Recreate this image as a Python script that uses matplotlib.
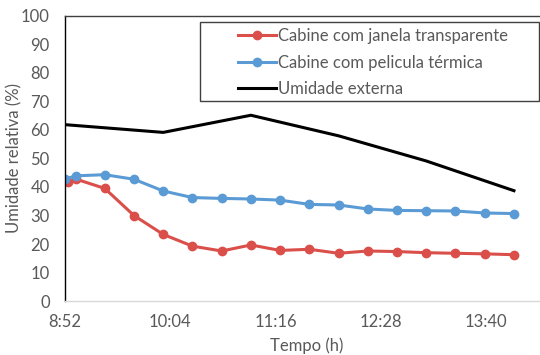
import matplotlib.pyplot as plt
from matplotlib.patches import Rectangle
from matplotlib.ticker import FuncFormatter

plt.rcParams['font.family'] = ['Lato', 'DejaVu Sans']

# Measurement times (h:mm) and relative humidity (%)
t_janela = ['8:55', '9:00', '9:20', '9:40', '10:00', '10:20', '10:40', '11:00', '11:20',
            '11:40', '12:00', '12:20', '12:40', '13:00', '13:20', '13:40', '14:00']
ur_janela = [41.7, 42.8, 39.5, 30.0, 23.4, 19.3, 17.6, 19.7, 17.8,
             18.2, 16.8, 17.6, 17.4, 17.0, 16.8, 16.6, 16.3]

t_pelicula = ['8:53', '9:00', '9:20', '9:40', '10:00', '10:20', '10:40', '11:00', '11:20',
              '11:40', '12:00', '12:20', '12:40', '13:00', '13:20', '13:40', '14:00']
ur_pelicula = [42.8, 43.9, 44.3, 42.7, 38.6, 36.3, 36.0, 35.8, 35.4,
               33.9, 33.7, 32.3, 31.8, 31.7, 31.6, 30.9, 30.7]

t_externa = ['8:53', '10:00', '11:00', '12:00', '13:00', '14:00']
ur_externa = [61.8, 59.1, 65.1, 57.9, 49.1, 38.7]


def to_day(hhmm):
    h, m = hhmm.split(':')
    return (int(h) * 60 + int(m)) / 1440.0


def fmt_time(x, pos):
    # time of day as a fraction of a day, truncated to the minute
    total = int(x * 1440 + 1e-6)
    return f'{total // 60}:{total % 60:02d}'


grey = '#595959'
fs = 12

fig = plt.figure(figsize=(5.4, 3.55), dpi=100)
ax = fig.add_axes([0.1204, 0.1513, 0.8963, 0.805])

ax.plot([to_day(t) for t in t_janela], ur_janela, '-o', color='#DB4F4A',
        lw=2.2, ms=6, label='Cabine com janela transparente')
ax.plot([to_day(t) for t in t_pelicula], ur_pelicula, '-o', color='#5B9BD5',
        lw=2.2, ms=6, label='Cabine com pelicula térmica')
ax.plot([to_day(t) for t in t_externa], ur_externa, '-', color='black',
        lw=2.2, label='Umidade externa')

ax.set_xlim(0.37, 0.60)
ax.set_ylim(0, 100)
ax.set_xticks([0.37 + 0.05 * k for k in range(5)])
ax.set_yticks(range(0, 101, 10))
ax.xaxis.set_major_formatter(FuncFormatter(fmt_time))
ax.tick_params(axis='y', length=0, labelsize=fs, labelcolor=grey, pad=11)
ax.tick_params(axis='x', length=0, labelsize=fs, labelcolor=grey, pad=9)

ax.set_xlabel('Tempo (h)', fontsize=fs, color=grey, labelpad=5.5)
ax.set_ylabel('Umidade relativa (%)', fontsize=fs, color=grey)
ax.yaxis.set_label_coords(-0.088, 0.5)

ax.spines['left'].set_color('black')
ax.spines['top'].set_color('#404040')
ax.spines['bottom'].set_color('#D9D9D9')
ax.spines['right'].set_color('#404040')
for s in ax.spines.values():
    s.set_linewidth(1.0)

# legend box with the entries set inside it
box = Rectangle((200 / 540, 1 - 100.5 / 355), 339 / 540, 78.5 / 355,
                transform=fig.transFigure, facecolor='white', edgecolor='#404040',
                lw=1.0, zorder=4.5, clip_on=False)
ax.add_patch(box)
leg = ax.legend(loc='upper left', bbox_to_anchor=(238 / 540, 1 - 28 / 355),
                bbox_transform=fig.transFigure, borderaxespad=0, fontsize=fs,
                frameon=False, handlelength=2.3, handletextpad=0.1,
                labelspacing=0.64, borderpad=0.0)
leg.set_zorder(6)
for txt in leg.get_texts():
    txt.set_color(grey)

fig.savefig('out.png', dpi=100)
